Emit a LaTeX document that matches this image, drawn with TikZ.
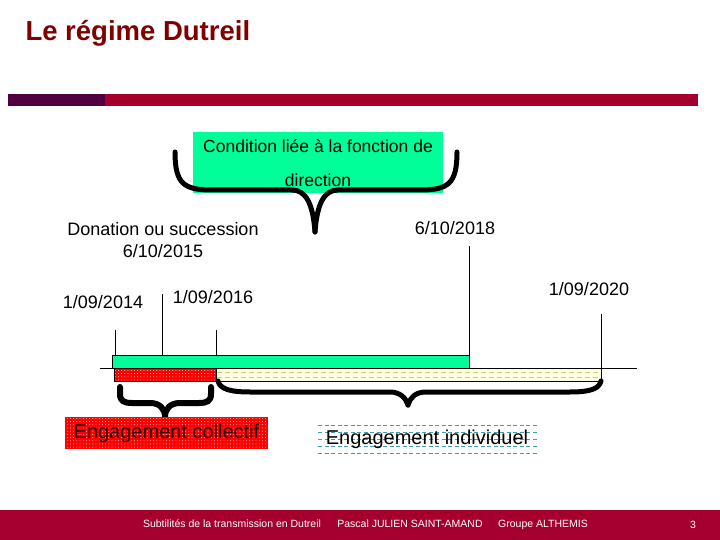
\documentclass[tikz,border=0pt]{standalone}
\usepackage{fontspec}
\setmainfont{Liberation Sans}
\usetikzlibrary{patterns}

\definecolor{titlered}{RGB}{128,0,0}
\definecolor{barred}{RGB}{165,0,45}
\definecolor{barpurple}{RGB}{80,0,64}
\definecolor{springgreen}{RGB}{0,255,153}
\definecolor{paleyellow}{RGB}{255,255,228}
\definecolor{dashyellow}{RGB}{205,205,110}
\definecolor{dashteal}{RGB}{70,155,175}
\definecolor{darktext}{RGB}{45,0,0}

% white dots on the red box
\pgfdeclarepatternformonly{sparsedots}{\pgfqpoint{-1pt}{-1pt}}{\pgfqpoint{1pt}{1pt}}{\pgfqpoint{3.2pt}{3.2pt}}%
  {\pgfpathcircle{\pgfqpoint{0pt}{0pt}}{0.45pt}\pgfusepath{fill}}

\tikzset{
  datelabel/.style={font=\fontsize{18}{21}\selectfont, inner sep=0pt},
  foottext/.style={font=\fontsize{10.5}{12}\selectfont, text=white, inner sep=0pt, anchor=base},
  bracepath/.style={line width=5pt, line cap=round, line join=round},
  reddots/.style={preaction={fill=red}, pattern=sparsedots, pattern color=white},
  tick/.style={thin}
}

\begin{document}
\begin{tikzpicture}[x=1pt, y=-1pt]
    \useasboundingbox (0,0) rectangle (720,540);
    % Title and header bar
    \node[text=titlered, font=\bfseries\fontsize{27.5}{30}\selectfont, anchor=west] (title) at (22,33) {Le régime Dutreil};
    \fill[barpurple] (8,94) rectangle (105,106);
    \fill[barred] (105,94) rectangle (698,106);
    % Condition box and its brace
    \node[fill=springgreen, minimum width=250pt, minimum height=61pt, align=center,
          font=\fontsize{17.5}{34}\selectfont, inner sep=0pt] (cond) at (318,163) {Condition liée à la fonction de\\direction};
    \draw[bracepath] (175,152) .. controls (175,184) and (184,190) .. (212,190) -- (292,190)
        .. controls (306,190) and (313,204) .. (315,232);
    \draw[bracepath] (457,152) .. controls (457,184) and (448,190) .. (420,190) -- (338,190)
        .. controls (324,190) and (317,204) .. (315,232);
    % Dates
    \node[datelabel, align=center] (donation) at (163,240) {Donation ou succession\\[1pt]6/10/2015};
    \node[datelabel] (d2018) at (455,228) {6/10/2018};
    \node[datelabel] (d2014) at (103,302) {1/09/2014};
    \node[datelabel] (d2016) at (213,297) {1/09/2016};
    \node[datelabel] (d2020) at (589,289) {1/09/2020};
    % Ticks
    \draw[tick] (115,330) -- (115,368);
    \draw[tick] (162.5,294) -- (162.5,368);
    \draw[tick] (216,330) -- (216,368);
    \draw[tick] (469,246) -- (469,368);
    \draw[tick] (601,314) -- (601,381);
    % Time axis
    \draw[thin] (100,368) -- (637,368);
    % Bars
    \filldraw[fill=springgreen, thin] (112,355) rectangle (469,368);
    \filldraw[fill=paleyellow, thin] (216,368) rectangle (601,381);
    \draw[dashyellow, dash pattern=on 5pt off 3pt, thin] (217,372.5) -- (600,372.5);
    \draw[dashyellow, dash pattern=on 5pt off 3pt, thin] (217,377.5) -- (600,377.5);
    \draw[thin, reddots] (114,368) rectangle (216,381);
    % Lower braces
    \draw[line width=6pt, line cap=round] (120,387) -- (120,394) .. controls (120,401) and (124,403) .. (132,403) -- (150,403)
        .. controls (160,403) and (165,409) .. (165,417);
    \draw[line width=6pt, line cap=round] (211,387) -- (211,394) .. controls (211,401) and (207,403) .. (199,403) -- (180,403)
        .. controls (170,403) and (165,409) .. (165,417);
    \draw[bracepath] (218,381) .. controls (220,389) and (230,392) .. (250,392) -- (390,392)
        .. controls (400,392) and (406,398) .. (408,405);
    \draw[bracepath] (601,381) .. controls (599,389) and (590,392) .. (570,392) -- (426,392)
        .. controls (415,392) and (410,398) .. (408,405);
    % Engagements
    \node[reddots, minimum width=203pt, minimum height=32pt,
          inner sep=0pt, text=darktext, font=\fontsize{20}{24}\selectfont] (coll) at (166.5,433) {Engagement collectif};
    \foreach \y in {425,432,439,446,453}
        \draw[dashteal, dash pattern=on 4pt off 2.5pt, thin] (318,\y) -- (537,\y);
    \node[inner sep=0pt, font=\fontsize{20}{24}\selectfont] (indiv) at (427,439) {Engagement individuel};
    % Footer
    \fill[barred] (0,510) rectangle (720,540);
    \node[foottext] (f1) at (232,527) {Subtilités de la transmission en Dutreil};
    \node[foottext] (f2) at (410,527) {Pascal JULIEN SAINT-AMAND};
    \node[foottext] (f3) at (543,527) {Groupe ALTHEMIS};
    \node[foottext] (f4) at (693,528) {3};
\end{tikzpicture}
\end{document}
